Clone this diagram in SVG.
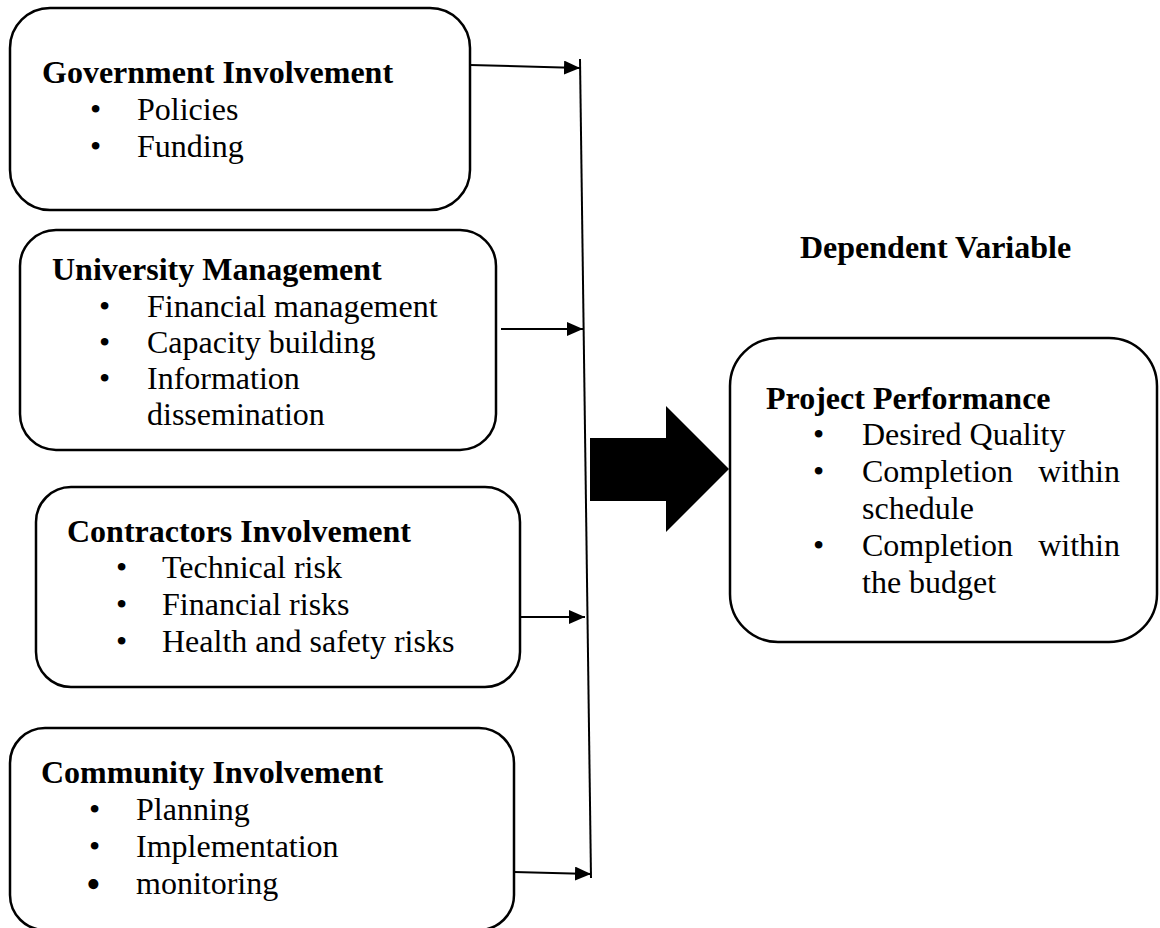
<svg xmlns="http://www.w3.org/2000/svg" width="1160" height="928" viewBox="0 0 1160 928">
  <style>
    .box { fill: #ffffff; stroke: #000000; stroke-width: 2.5; }
    .title { font-family: "Liberation Serif", "Times New Roman", serif; font-size: 32px; font-weight: bold; fill: #000000; }
    .item { font-family: "Liberation Serif", "Times New Roman", serif; font-size: 32px; fill: #000000; }
    .link { fill: none; stroke: #000000; stroke-width: 2; }
  </style>
  <defs>
    <marker id="head" markerUnits="userSpaceOnUse" markerWidth="16" markerHeight="14" refX="16" refY="7" orient="auto">
      <path d="M0,0 L16,7 L0,14 Z" fill="#000000"/>
    </marker>
  </defs>
  <rect width="1160" height="928" fill="#ffffff"/>

  <!-- connectors: collector bar, feeder arrows and the block arrow -->
  <g id="connectors">
    <line class="link" x1="580" y1="59" x2="591" y2="878"/>
    <line class="link" x1="470" y1="65" x2="580" y2="68" marker-end="url(#head)"/>
    <line class="link" x1="501" y1="329" x2="583" y2="329" marker-end="url(#head)"/>
    <line class="link" x1="520" y1="617" x2="585" y2="617" marker-end="url(#head)"/>
    <line class="link" x1="514" y1="872" x2="591" y2="874" marker-end="url(#head)"/>
    <polygon id="main-arrow" points="590,438 666,438 666,406 729,469 666,532 666,501 590,501" fill="#000000"/>
  </g>

  <g id="government">
    <rect class="box" x="10" y="8" width="460" height="202" rx="40" ry="40"/>
    <text class="title" x="42" y="83">Government Involvement</text>
    <text class="item" x="90" y="120">•</text>
    <text class="item" x="137" y="120">Policies</text>
    <text class="item" x="90" y="157">•</text>
    <text class="item" x="137" y="157">Funding</text>
  </g>

  <g id="university">
    <rect class="box" x="20" y="230" width="476" height="220" rx="36" ry="36"/>
    <text class="title" x="52" y="280">University Management</text>
    <text class="item" x="99" y="317">•</text>
    <text class="item" x="147" y="317">Financial management</text>
    <text class="item" x="99" y="353">•</text>
    <text class="item" x="147" y="353">Capacity building</text>
    <text class="item" x="99" y="389">•</text>
    <text class="item" x="147" y="389">Information</text>
    <text class="item" x="147" y="425">dissemination</text>
  </g>

  <g id="contractors">
    <rect class="box" x="36" y="487" width="484" height="200" rx="35" ry="35"/>
    <text class="title" x="67" y="542">Contractors Involvement</text>
    <text class="item" x="116" y="578">•</text>
    <text class="item" x="162" y="578">Technical risk</text>
    <text class="item" x="116" y="615">•</text>
    <text class="item" x="162" y="615">Financial risks</text>
    <text class="item" x="116" y="652">•</text>
    <text class="item" x="162" y="652">Health and safety risks</text>
  </g>

  <g id="community">
    <rect class="box" x="10" y="728" width="504" height="202" rx="35" ry="35"/>
    <text class="title" x="41" y="783">Community Involvement</text>
    <text class="item" x="89" y="820">•</text>
    <text class="item" x="136" y="820">Planning</text>
    <text class="item" x="89" y="857">•</text>
    <text class="item" x="136" y="857">Implementation</text>
    <text class="item" x="86" y="898" style="font-size:42px">•</text>
    <text class="item" x="136" y="894">monitoring</text>
  </g>

  <g id="dependent-label">
    <text class="title" x="800" y="258">Dependent Variable</text>
  </g>

  <g id="performance">
    <rect class="box" x="730" y="338" width="427" height="304" rx="48" ry="48"/>
    <text class="title" x="766" y="409">Project Performance</text>
    <text class="item" x="813" y="445">•</text>
    <text class="item" x="862" y="445">Desired Quality</text>
    <text class="item" x="813" y="482">•</text>
    <text class="item" x="862" y="482">Completion</text>
    <text class="item" x="1120" y="482" text-anchor="end">within</text>
    <text class="item" x="862" y="519">schedule</text>
    <text class="item" x="813" y="556">•</text>
    <text class="item" x="862" y="556">Completion</text>
    <text class="item" x="1120" y="556" text-anchor="end">within</text>
    <text class="item" x="862" y="593">the budget</text>
  </g>
</svg>
